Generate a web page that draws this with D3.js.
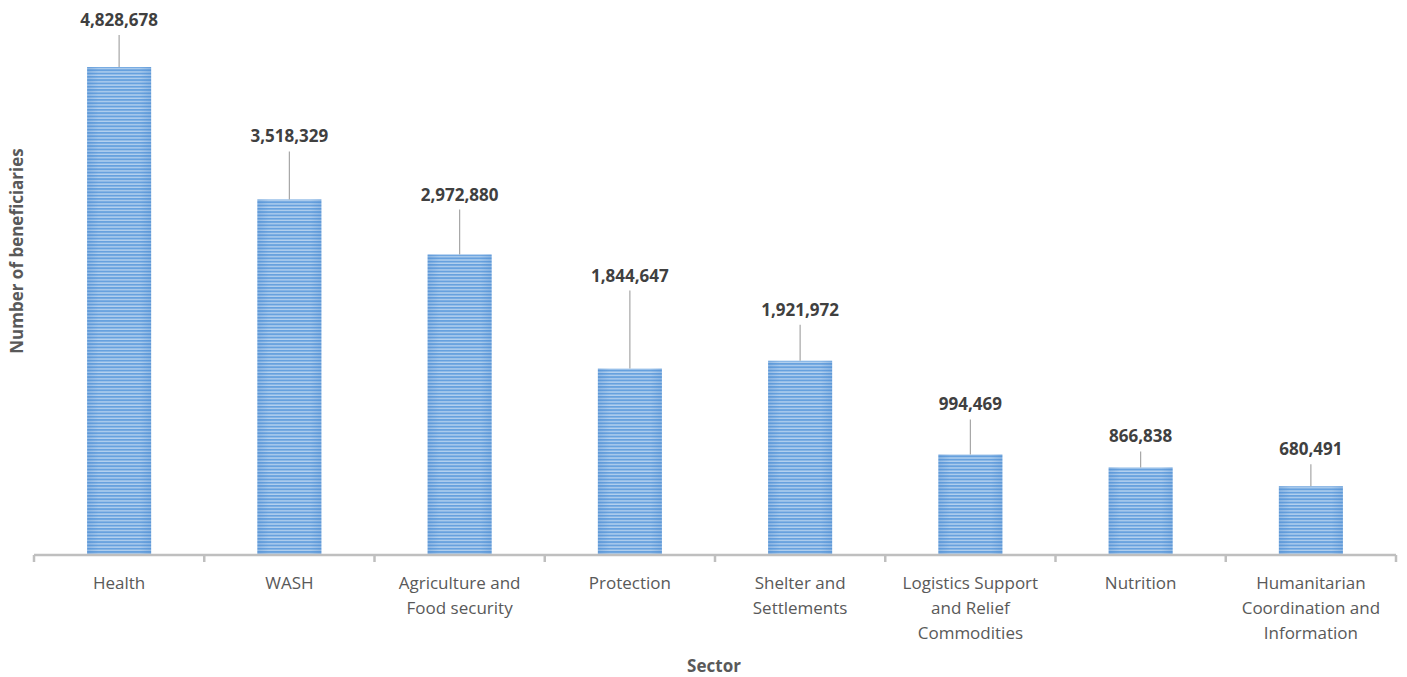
<!DOCTYPE html>
<html>
<head>
<meta charset="utf-8">
<script src="https://cdn.jsdelivr.net/npm/d3@7/dist/d3.min.js"></script>
<style>
  html, body { margin: 0; padding: 0; background: #fff; }
  svg { display: block; font-family: "Open Sans", "Noto Sans", sans-serif; }
</style>
</head>
<body>
<svg id="chart" width="1407" height="677"></svg>
<script>
// Beneficiaries reached per sector
const sectors = [
  ["Health"],
  ["WASH"],
  ["Agriculture and", "Food security"],
  ["Protection"],
  ["Shelter and", "Settlements"],
  ["Logistics Support", "and Relief", "Commodities"],
  ["Nutrition"],
  ["Humanitarian", "Coordination and", "Information"]
];
const beneficiaries = [4828678, 3518329, 2972880, 1844647, 1921972, 994469, 866838, 680491];
// how far each value label sits above its bar (leader line length), px
const labelLift = [47, 63, 60, 93, 51, 50, 31, 37];

const svg = d3.select("#chart");
const W = 1407, H = 677;
const margin = { left: 34, right: 11, top: 50, bottom: 122 };
const baseY = H - margin.bottom;   // 555
const fontSize = 17;

const x = d3.scaleBand()
  .domain(d3.range(sectors.length))
  .range([margin.left, W - margin.right])
  .paddingInner(0.624)
  .paddingOuter(0.312);

const y = d3.scaleLinear()
  .domain([0, 5000000])
  .range([baseY, baseY - 505.3]);

// striped fill
const defs = svg.append("defs");
const pat = defs.append("pattern")
  .attr("id", "stripes")
  .attr("patternUnits", "userSpaceOnUse")
  .attr("width", 10).attr("height", 3.3);
pat.append("rect").attr("width", 10).attr("height", 3.3).attr("fill", "#b4d1ef");
pat.append("rect").attr("y", 0).attr("width", 10).attr("height", 1.9).attr("fill", "#67a1de");

const grad = defs.append("linearGradient").attr("id", "edgeShade")
  .attr("x1", "0").attr("x2", "1").attr("y1", "0").attr("y2", "0");
grad.append("stop").attr("offset", "0").attr("stop-color", "#3f7fc8").attr("stop-opacity", 0.28);
grad.append("stop").attr("offset", "0.18").attr("stop-color", "#3f7fc8").attr("stop-opacity", 0);
grad.append("stop").attr("offset", "0.82").attr("stop-color", "#3f7fc8").attr("stop-opacity", 0);
grad.append("stop").attr("offset", "1").attr("stop-color", "#3f7fc8").attr("stop-opacity", 0.28);

const bars = svg.append("g").selectAll("g")
  .data(beneficiaries)
  .join("g");

bars.append("rect")
  .attr("x", (d, i) => x(i))
  .attr("y", d => y(d))
  .attr("width", x.bandwidth())
  .attr("height", d => baseY - y(d))
  .attr("fill", "url(#stripes)");

bars.append("rect")
  .attr("x", (d, i) => x(i))
  .attr("y", d => y(d))
  .attr("width", x.bandwidth())
  .attr("height", d => baseY - y(d))
  .attr("fill", "url(#edgeShade)");

// leader lines and value labels
const fmt = d3.format(",");
bars.append("line")
  .attr("x1", (d, i) => x(i) + x.bandwidth() / 2)
  .attr("x2", (d, i) => x(i) + x.bandwidth() / 2)
  .attr("y1", (d, i) => y(d) - labelLift[i] + 15)
  .attr("y2", d => y(d))
  .attr("stroke", "#a6a6a6")
  .attr("stroke-width", 1.2);

bars.append("text")
  .attr("x", (d, i) => x(i) + x.bandwidth() / 2)
  .attr("y", (d, i) => y(d) - labelLift[i] + 6)
  .attr("text-anchor", "middle")
  .attr("font-size", fontSize)
  .attr("font-weight", "bold")
  .attr("fill", "#404040")
  .text(d => fmt(d));

// category axis
const boundaries = d3.range(sectors.length + 1).map(i => margin.left + i * (W - margin.left - margin.right) / sectors.length);
svg.append("line")
  .attr("x1", margin.left).attr("x2", W - margin.right)
  .attr("y1", baseY).attr("y2", baseY)
  .attr("stroke", "#bfbfbf").attr("stroke-width", 2.5);
svg.append("g").selectAll("line")
  .data(boundaries)
  .join("line")
  .attr("x1", d => d).attr("x2", d => d)
  .attr("y1", baseY).attr("y2", baseY + 7)
  .attr("stroke", "#bfbfbf").attr("stroke-width", 2.5);

const catLabels = svg.append("g").selectAll("text")
  .data(sectors)
  .join("text")
  .attr("x", (d, i) => x(i) + x.bandwidth() / 2)
  .attr("y", 589)
  .attr("text-anchor", "middle")
  .attr("font-size", fontSize)
  .attr("fill", "#595959");
catLabels.selectAll("tspan")
  .data(d => d)
  .join("tspan")
  .attr("x", function () { return this.parentNode.getAttribute("x"); })
  .attr("dy", (d, j) => j === 0 ? 0 : 25)
  .text(d => d);

// axis titles
svg.append("text")
  .attr("x", 714).attr("y", 672)
  .attr("text-anchor", "middle")
  .attr("font-size", fontSize)
  .attr("font-weight", "bold")
  .attr("fill", "#595959")
  .text("Sector");

svg.append("text")
  .attr("transform", "translate(23,251) rotate(-90)")
  .attr("text-anchor", "middle")
  .attr("font-size", fontSize)
  .attr("font-weight", "bold")
  .attr("fill", "#595959")
  .text("Number of beneficiaries");
</script>
</body>
</html>
